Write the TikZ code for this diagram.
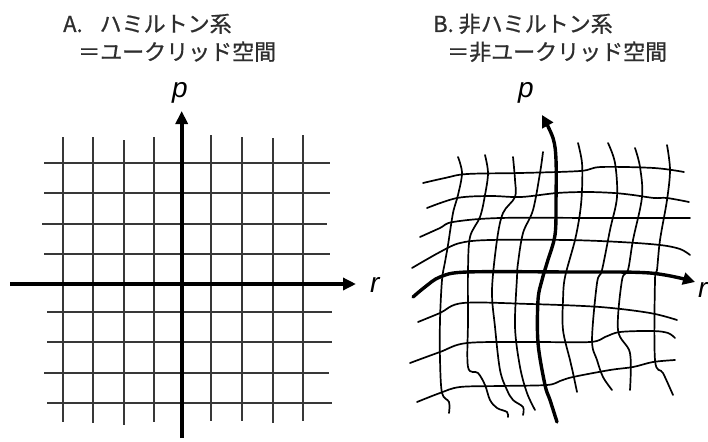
\documentclass[tikz,border=0pt]{standalone}
\usepackage{fontspec}
\newfontfamily\jp[FakeBold=0.8]{Noto Sans CJK JP}
\newfontfamily\lab{Liberation Sans}
\usetikzlibrary{arrows.meta}
\tikzset{
  title/.style={anchor=base west, inner sep=0pt, text=black!82, font=\jp\fontsize{22}{26}\selectfont},
  axlabel/.style={inner sep=0pt, font=\lab\itshape\fontsize{28}{32}\selectfont},
  gridA/.style={draw=black!78, line width=1.8pt},
  axisA/.style={draw=black, line width=3.6pt},
  gridB/.style={draw=black, line width=1.7pt, line cap=round, line join=round},
  axisB/.style={draw=black, line width=3.4pt, line cap=round, line join=round},
  tipA/.style={-{Triangle[length=13pt,width=12pt]}},
  tipB/.style={-{Triangle[length=12pt,width=12pt]}},
}
\begin{document}
\begin{tikzpicture}[x=1pt,y=-1pt]
\useasboundingbox (0,0) rectangle (708,441);
% ---------- titles ----------
\node[title] (tA1) at (63,32) {A.\hspace{17pt}ハミルトン系};
\node[title] (tA2) at (78,60) {＝ユークリッド空間};
\node[title] (tB1) at (433,32) {B. 非ハミルトン系};
\node[title] (tB2) at (447,60) {＝非ユークリッド空間};
% ---------- A grid ----------
\foreach \x/\t/\b in {62.7/137/422, 93.3/137/423, 124/140/425, 154.3/137/422, 210.7/135/421, 241.7/137/421, 272.7/138/423, 303.3/135/421}
  \draw[gridA] (\x,\t) -- (\x,\b);
\foreach \y/\l/\r in {163/44/330, 193/44/330, 224/42/327, 254/44/330, 312/47/332, 342/47/332, 373/44/329, 403/47/332}
  \draw[gridA] (\l,\y) -- (\r,\y);
\coordinate (aL) at (10,284);
\coordinate (aR) at (356,284);
\coordinate (aB) at (181.7,438);
\coordinate (aT) at (181.7,111);
\draw[axisA, tipA] (aL) -- (aR);
\draw[axisA, tipA] (aB) -- (aT);
\node[axlabel, anchor=base] (pA) at (180,98) {p};
\node[axlabel, anchor=base west] (rA) at (370,292) {r};
% ---------- B grid: horizontals ----------
\draw[gridB] plot[smooth, tension=0.55] coordinates {(423,183) (445,178) (467,174) (520,173) (580,171) (601,167) (654,168) (684,172)};
\draw[gridB] plot[smooth, tension=0.55] coordinates {(427,208) (457,198) (490,196) (521,197) (557,193) (587,192) (614,193) (633,195) (654,198) (667,198) (689,202)};
\draw[gridB] plot[smooth, tension=0.55] coordinates {(420,237) (440,228) (453,222) (500,218) (600,218) (690,218)};
\draw[gridB] plot[smooth, tension=0.55] coordinates {(412,268) (440,252) (460,243) (490,240) (567,240) (620,242) (660,245) (680,249) (690,255)};
\draw[gridB] plot[smooth, tension=0.55] coordinates {(418,322) (440,313) (463,303) (530,304) (600,307) (650,313) (677,320)};
\draw[gridB] plot[smooth, tension=0.55] coordinates {(410,363) (440,352) (467,343) (530,342) (590,342) (605,337) (620,332) (653,331) (668,333) (675,338)};
\draw[gridB] plot[smooth, tension=0.55] coordinates {(417,402) (440,393) (460,387) (500,386) (547,385) (560,381) (573,377) (610,370) (633,367) (653,362) (675,360)};
% ---------- B grid: verticals ----------
\draw[gridB] plot[smooth, tension=0.55] coordinates {(458,157) (462,173) (458,195) (453,213) (448,245) (445,262) (442,280) (440,320) (440,360) (442,393) (449,402) (449,413)};
\draw[gridB] plot[smooth, tension=0.55] coordinates {(485,155) (488,173) (485,195) (480,217) (470,237) (468,270) (468,320) (468,367) (478,373) (485,385) (490,400) (497,408) (507,412) (508,417)};
\draw[gridB] plot[smooth, tension=0.55] coordinates {(513,157) (515,180) (515,197) (503,213) (497,240) (492,290) (495,327) (500,370) (507,390) (513,400) (523,407) (523,415)};
\draw[gridB] plot[smooth, tension=0.55] coordinates {(543,152) (540,173) (533,210) (523,233) (518,263) (517,277) (515,327) (520,367) (527,393) (535,410)};
\draw[gridB] plot[smooth, tension=0.55] coordinates {(578,143) (582,163) (582,190) (580,213) (575,240) (565,277) (563,300) (563,330) (570,360) (573,373) (577,392)};
\draw[gridB] plot[smooth, tension=0.55] coordinates {(608,143) (615,163) (617,197) (610,230) (602,270) (597,283) (592,340) (597,360) (603,377) (612,390)};
\draw[gridB] plot[smooth, tension=0.55] coordinates {(635,148) (640,167) (642,197) (633,240) (628,270) (622,280) (618,330) (630,353) (630,390)};
\draw[gridB] plot[smooth, tension=0.55] coordinates {(667,145) (670,170) (667,200) (660,240) (657,270) (655,280) (655,360) (663,373) (673,395)};
% ---------- B axes ----------
\draw[axisB, tipB] plot[smooth, tension=0.55] coordinates {(413,297) (425,287) (440,277) (467,272) (567,272) (650,273) (695,282)};
\draw[axisB, tipB] plot[smooth, tension=0.55] coordinates {(557,422) (550,400) (545,385) (538,343) (538,300) (542,280) (547,263) (555,235) (556,200) (556,160) (553,138) (542,115)};
\node[axlabel, anchor=base] (pB) at (526,98) {p};
\node[axlabel, anchor=base west] (rB) at (698,297) {r};
\end{tikzpicture}
\end{document}
